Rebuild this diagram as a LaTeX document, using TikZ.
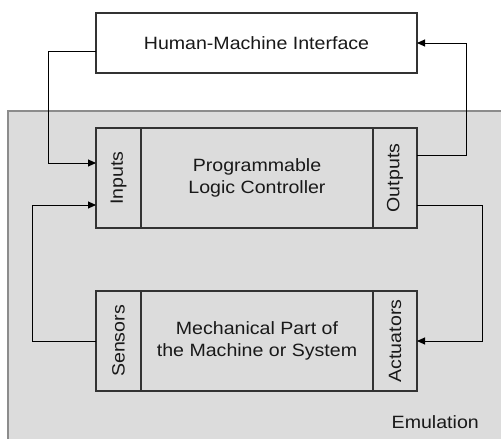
\documentclass[tikz,border=0pt]{standalone}
\usepackage{fontspec}
\setmainfont{Liberation Sans}[FakeStretch=1.1]
\usetikzlibrary{arrows.meta}
\definecolor{emubg}{HTML}{DCDCDC}
\definecolor{emuborder}{HTML}{8C8C8C}
\definecolor{boxline}{HTML}{333333}
\begin{document}
\begin{tikzpicture}[x=1pt,y=-1pt,
  blk/.style={draw=boxline,line width=1.2pt,inner sep=0pt,outer sep=0pt},
  txt/.style={font=\fontsize{17.8}{21.5}\selectfont,align=center,text=black!90,inner sep=0pt},
  arr/.style={draw=black,line width=0.9pt,-{Triangle[length=8pt,width=7pt]}},
  ln/.style={draw=black,line width=0.9pt}]
\useasboundingbox (0,0) rectangle (501,439);
% emulation area
\fill[emubg] (8,111) rectangle (503,441);
\draw[emuborder,line width=1.3pt] (8,441) -- (8,111) -- (503,111);
% HMI
\node[blk,fill=white,minimum width=321pt,minimum height=60pt] (hmi) at (256.5,43) {};
\node[txt] (hmit) at (hmi.center) {Human-Machine Interface};
% PLC
\node[blk,minimum width=232pt,minimum height=100pt] (plc) at (257,178) {};
\node[blk,minimum width=45pt,minimum height=100pt] (in) at (118.5,178) {};
\node[blk,minimum width=44pt,minimum height=100pt] (out) at (395,178) {};
\node[txt] (plct) at (plc.center) {Programmable\\Logic Controller};
\node[txt,rotate=90] (int) at (in.center) {Inputs};
\node[txt,rotate=90] (outt) at (out.center) {Outputs};
% Mechanical
\node[blk,minimum width=232pt,minimum height=100pt] (mech) at (257,341) {};
\node[blk,minimum width=45pt,minimum height=100pt] (sen) at (118.5,341) {};
\node[blk,minimum width=44pt,minimum height=100pt] (act) at (395,341) {};
\node[txt] (mecht) at (mech.center) {Mechanical Part of\\the Machine or System};
\node[txt,rotate=90] (sent) at (sen.center) {Sensors};
\node[txt,rotate=90] (actt) at (act.center) {Actuators};
% label
\node[txt,anchor=base east] (emu) at (479,428) {Emulation};
% connectors
\draw[arr] ([yshift=-8pt]hmi.west) -- ++(-48,0) |- ([yshift=15pt]in.west);
\draw[arr] ([yshift=23pt]out.east) -- ++(49,0) |- (hmi.east);
\draw[arr] ([yshift=-27pt]out.east) -- ++(65,0) |- (act.east);
\draw[arr] (sen.west) -- ++(-64,0) |- ([yshift=-27pt]in.west);
\end{tikzpicture}
\end{document}
